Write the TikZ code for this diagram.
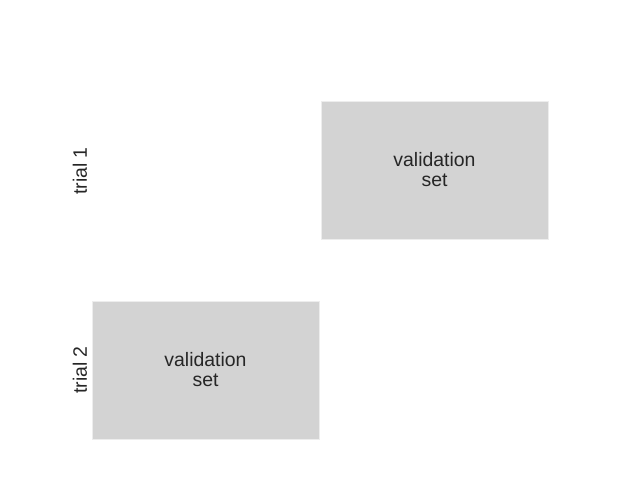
\documentclass[tikz,border=0pt]{standalone}
\usepackage{fontspec}
\setmainfont{Liberation Sans}
\definecolor{boxgray}{HTML}{D3D3D3}
\definecolor{txt}{HTML}{262626}
\begin{document}
\begin{tikzpicture}[x=0.72pt,y=-0.72pt,
  valbox/.style={fill=boxgray,draw=white!60!boxgray,line width=0.5pt},
  lbl/.style={text=txt,font=\fontsize{14pt}{14.4pt}\selectfont,align=center,inner sep=0pt},
  trial/.style={text=txt,font=\fontsize{14pt}{14.4pt}\selectfont,rotate=90,inner sep=0pt}]
\useasboundingbox (0,0) rectangle (640,480);
\filldraw[valbox] (321,101) rectangle (548,239);
\node[lbl] (v1) at (434.5,169.5) {validation\\set};
\filldraw[valbox] (92,301) rectangle (319,439);
\node[lbl] (v2) at (205.5,369.5) {validation\\set};
\node[trial] (t1) at (80,171) {trial 1};
\node[trial] (t2) at (80,370) {trial 2};
\end{tikzpicture}
\end{document}
